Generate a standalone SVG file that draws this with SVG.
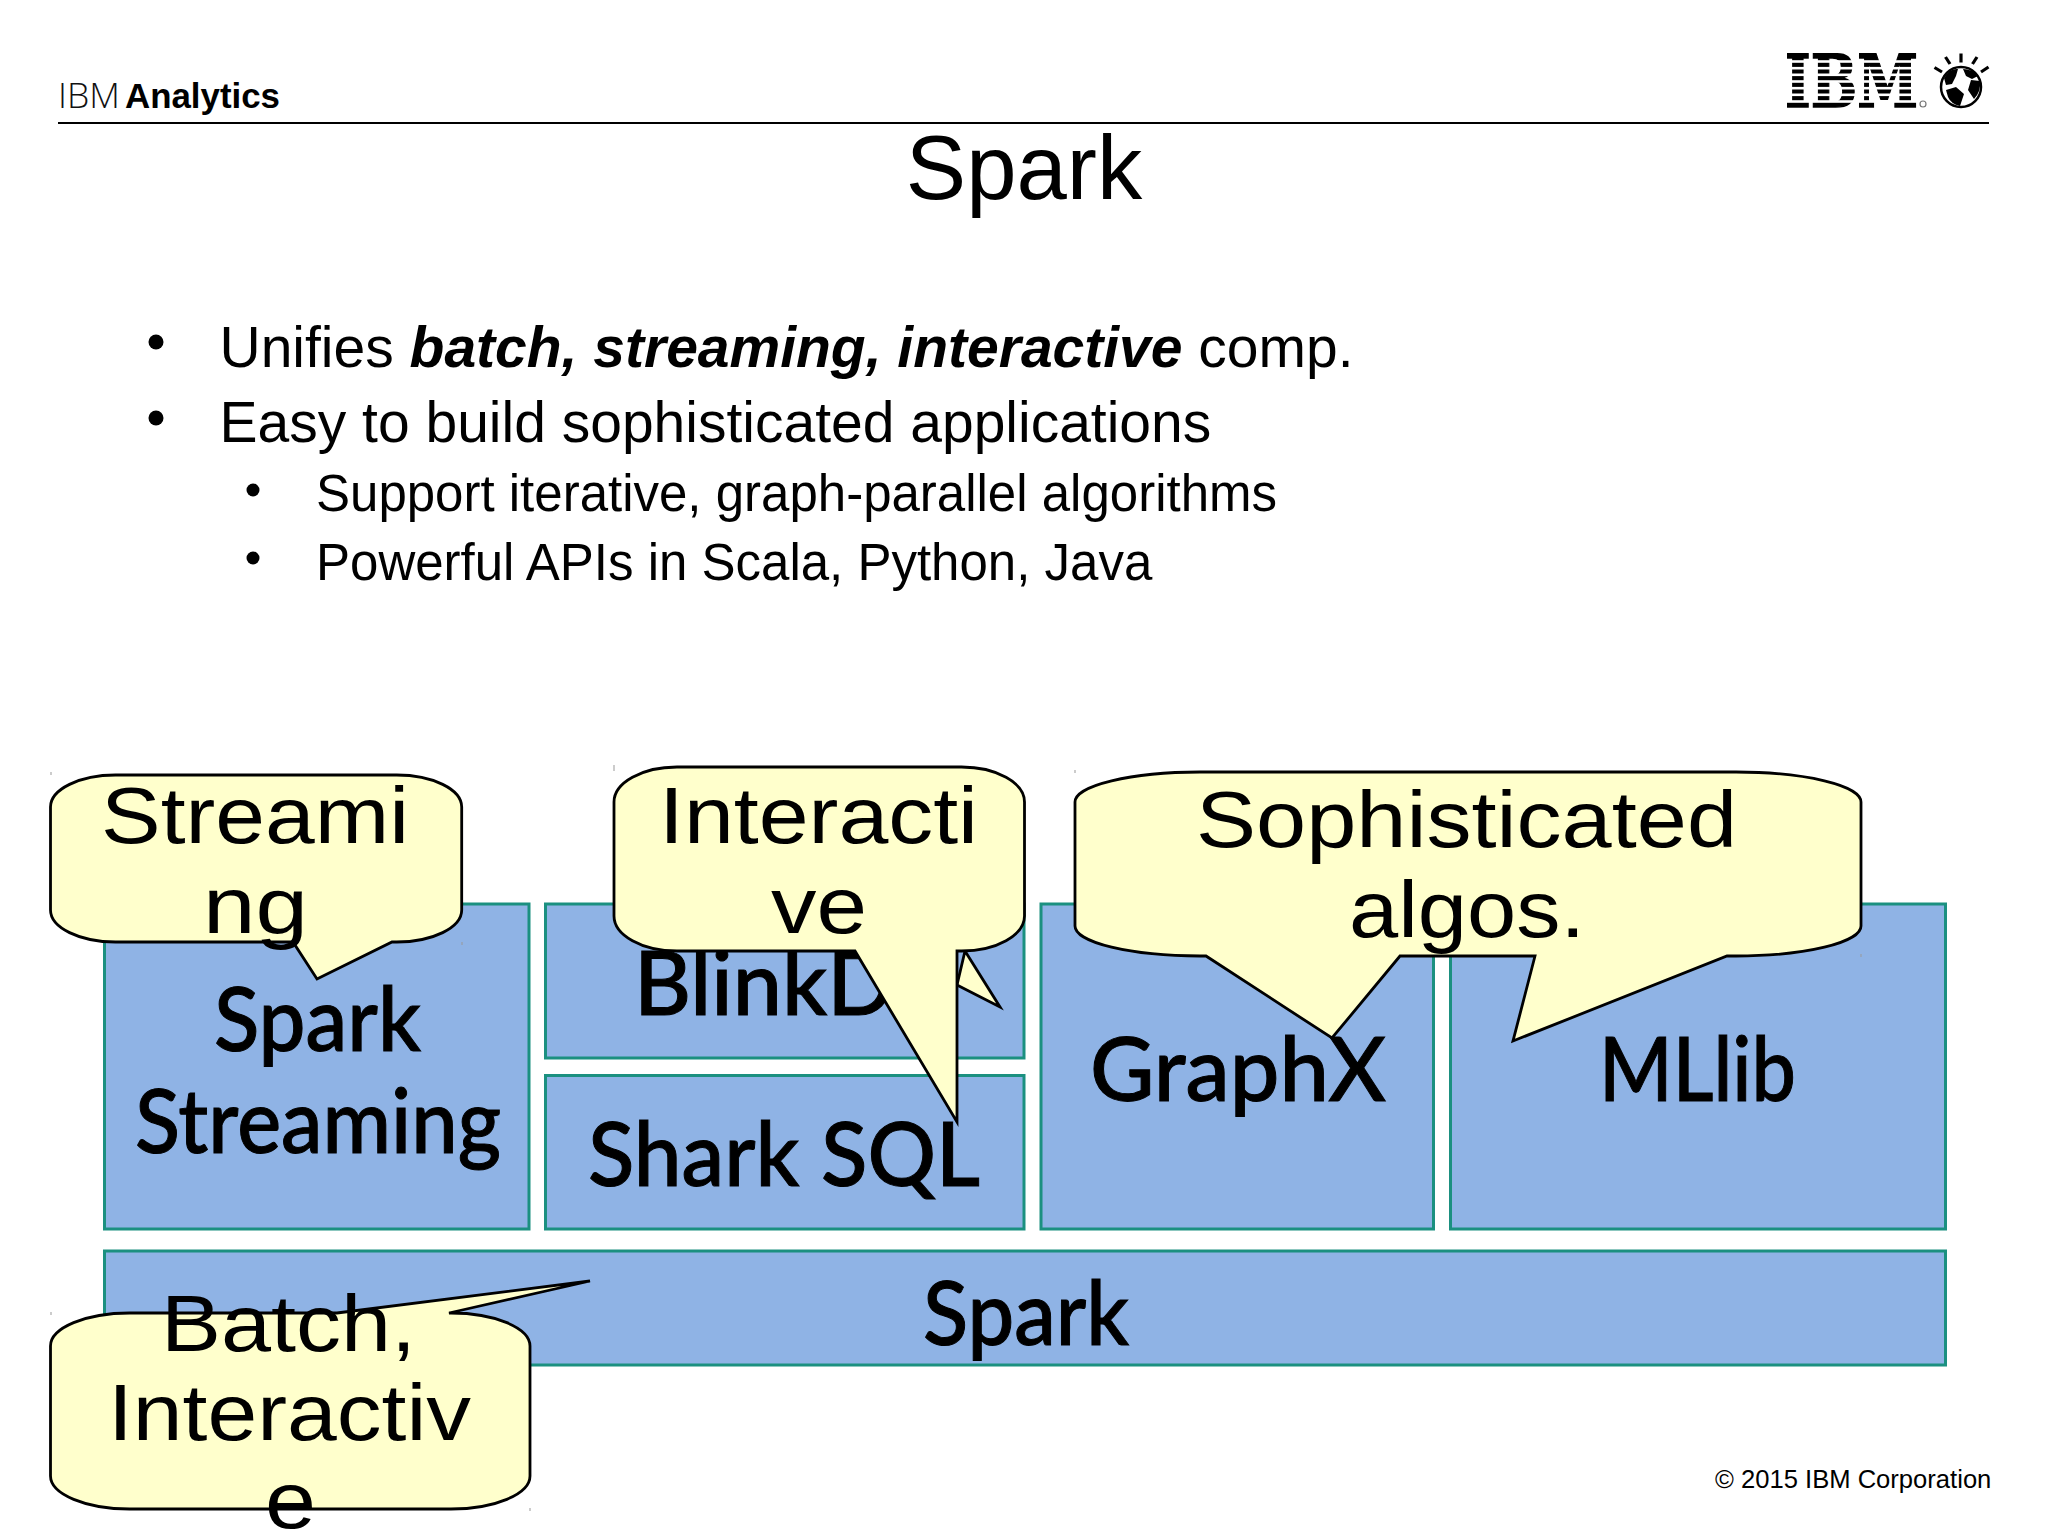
<svg xmlns="http://www.w3.org/2000/svg" width="2048" height="1536" viewBox="0 0 2048 1536">
<style>
.box{fill:#8FB3E5;stroke:#1B9080;stroke-width:3}
.call{fill:#FFFFCC;stroke:#000;stroke-width:2.8;stroke-linejoin:miter}
.bl{font-family:"Lato","Noto Sans",sans-serif;font-size:88px;font-weight:500;fill:#000;stroke:#000;stroke-width:1}
.cl{font-family:"Liberation Sans",Arial,sans-serif;font-size:80px;fill:#000}
.t{font-family:"Liberation Sans",Arial,sans-serif;fill:#000}
.b1{font-size:57px}
.b2{font-size:51px}
.tick{stroke:#999;stroke-width:1}
</style>
<rect width="2048" height="1536" fill="#fff"/>
<g id="header">
<text x="58" y="108" font-family="'Open Sans',sans-serif" font-size="35.500" font-weight="300" fill="#111">IBM</text>
<text x="125" y="108" class="t" font-size="35" font-weight="700" textLength="155" lengthAdjust="spacingAndGlyphs">Analytics</text>
<line x1="58" y1="123" x2="1989" y2="123" stroke="#000" stroke-width="2"/>
</g>
<g id="ibm-logo">
<text x="1785" y="107" font-family="'DejaVu Serif',serif" font-size="73" font-weight="700" stroke="#000" stroke-width="1.500" textLength="133" lengthAdjust="spacingAndGlyphs">IBM</text>
<g fill="#fff">
<rect x="1780" y="60.200" width="142" height="2.600"/><rect x="1780" y="66.900" width="142" height="2.600"/><rect x="1780" y="73.500" width="142" height="2.600"/><rect x="1780" y="80.200" width="142" height="2.600"/><rect x="1780" y="86.900" width="142" height="2.600"/><rect x="1780" y="93.500" width="142" height="2.600"/><rect x="1780" y="100.200" width="142" height="2.600"/>
</g>
<circle cx="1923" cy="104" r="3" fill="none" stroke="#777" stroke-width="1.200"/>
<g stroke="#000" stroke-width="3.200">
<line x1="1934.500" y1="67.500" x2="1942" y2="72"/><line x1="1945.500" y1="57" x2="1950" y2="64"/><line x1="1961" y1="53.500" x2="1961" y2="62.500"/><line x1="1977" y1="57" x2="1972.500" y2="64"/><line x1="1988.500" y1="67" x2="1981" y2="72"/>
</g>
<circle cx="1961" cy="87" r="20" fill="#fff" stroke="#000" stroke-width="2.500"/>
<path d="M1944 78Q1950 68 1958 69L1956 76L1952 84L1946 85ZM1963 69Q1972 69 1978 76L1972 79L1966 76ZM1971 80L1980 81Q1981 92 1974 99L1968 90ZM1946 90L1956 87L1964 94L1960 106Q1951 104 1948 97Z" fill="#000"/>
</g>
<g id="title"><text x="1024" y="199" text-anchor="middle" class="t" font-size="90.500">Spark</text></g>
<g id="bullets">
<circle cx="156" cy="342" r="7.500"/><circle cx="156" cy="418" r="7.500"/><circle cx="253" cy="490" r="6.500"/><circle cx="253" cy="558" r="6.500"/>
<text x="219.500" y="367" class="t b1">Unifies <tspan font-weight="700" font-style="italic">batch, streaming, interactive</tspan> comp.</text>
<text x="219.500" y="442" class="t b1">Easy to build sophisticated applications</text>
<text x="316" y="511" class="t b2">Support iterative, graph-parallel algorithms</text>
<text x="316" y="580" class="t b2">Powerful APIs in Scala, Python, Java</text>
</g>
<g id="spark-streaming"><rect class="box" x="104.500" y="904" width="424.500" height="325"/>
<text class="bl" x="214" y="1051" textLength="207" lengthAdjust="spacingAndGlyphs">Spark</text>
<text class="bl" x="135" y="1153" textLength="366" lengthAdjust="spacingAndGlyphs">Streaming</text></g>
<g id="blinkdb"><rect class="box" x="545.500" y="904" width="478.500" height="154"/>
<text class="bl" x="634" y="1015" font-size="87"><tspan>BlinkD</tspan><tspan x="897">B</tspan></text></g>
<g id="shark-sql"><rect class="box" x="545.500" y="1075.500" width="478.500" height="153.500"/>
<text class="bl" x="588" y="1186" textLength="392" lengthAdjust="spacingAndGlyphs">Shark SQL</text></g>
<g id="graphx"><rect class="box" x="1041" y="904" width="392.500" height="325"/>
<text class="bl" x="1090" y="1101" textLength="296" lengthAdjust="spacingAndGlyphs">GraphX</text></g>
<g id="mllib"><rect class="box" x="1450.500" y="904" width="495" height="325"/>
<text class="bl" x="1599" y="1101" textLength="197" lengthAdjust="spacingAndGlyphs">MLlib</text></g>
<g id="spark"><rect class="box" x="104.500" y="1251" width="1841" height="114"/>
<text class="bl" x="923" y="1345" textLength="206" lengthAdjust="spacingAndGlyphs">Spark</text></g>
<g id="connectors"><path class="call" d="M965 951L1000 1007L957 985Z"/></g>
<g id="callout-streaming"><path class="call" d="M115.500 775H396.700A65 32 0 0 1 461.700 807V910A65 32 0 0 1 396.700 942H392L317 979L293 942H115.500A65 32 0 0 1 50.500 910V807A65 32 0 0 1 115.500 775Z"/>
<text class="cl" x="101" y="843" textLength="308" lengthAdjust="spacingAndGlyphs">Streami</text>
<text class="cl" x="203" y="933" textLength="105" lengthAdjust="spacingAndGlyphs">ng</text></g>
<g id="callout-interactive"><path class="call" d="M677 767H961.500A63 35 0 0 1 1024.500 802V916A63 35 0 0 1 961.500 951H957V1122L855 951H677A63 35 0 0 1 614 916V802A63 35 0 0 1 677 767Z"/>
<text class="cl" x="659" y="843" textLength="319" lengthAdjust="spacingAndGlyphs">Interacti</text>
<text class="cl" x="771" y="933" textLength="96" lengthAdjust="spacingAndGlyphs">ve</text></g>
<g id="callout-sophisticated"><path class="call" d="M1200 772H1736A125 30 0 0 1 1861 802V926A125 30 0 0 1 1736 956H1727L1513 1041L1535 956H1400L1332 1038L1206 956H1200A125 30 0 0 1 1075 926V802A125 30 0 0 1 1200 772Z"/>
<text class="cl" x="1196" y="847" textLength="541" lengthAdjust="spacingAndGlyphs">Sophisticated</text>
<text class="cl" x="1349" y="937" textLength="236" lengthAdjust="spacingAndGlyphs">algos.</text></g>
<g id="callout-batch"><path class="call" d="M129.500 1313H337L590 1281L449 1313H451A79 33 0 0 1 530 1346V1476A79 33 0 0 1 451 1509H129.500A79 33 0 0 1 50.500 1476V1346A79 33 0 0 1 129.500 1313Z"/>
<text class="cl" x="161" y="1351" textLength="255" lengthAdjust="spacingAndGlyphs">Batch,</text>
<text class="cl" x="108" y="1440" textLength="363" lengthAdjust="spacingAndGlyphs">Interactiv</text>
<text class="cl" x="265" y="1528" textLength="51" lengthAdjust="spacingAndGlyphs">e</text></g>
<g id="handles"><line class="tick" x1="51" y1="772" x2="51" y2="775"/><line class="tick" x1="462" y1="942" x2="462" y2="945"/><line class="tick" x1="614" y1="765" x2="614" y2="771"/><line class="tick" x1="1075" y1="770" x2="1075" y2="773"/><line class="tick" x1="1861" y1="954" x2="1861" y2="957"/><line class="tick" x1="51" y1="1312" x2="51" y2="1315"/><line class="tick" x1="530" y1="1508" x2="530" y2="1511"/></g>
<g id="copyright"><text x="1715" y="1488" class="t" font-size="25.600">© 2015 IBM Corporation</text></g>
</svg>
